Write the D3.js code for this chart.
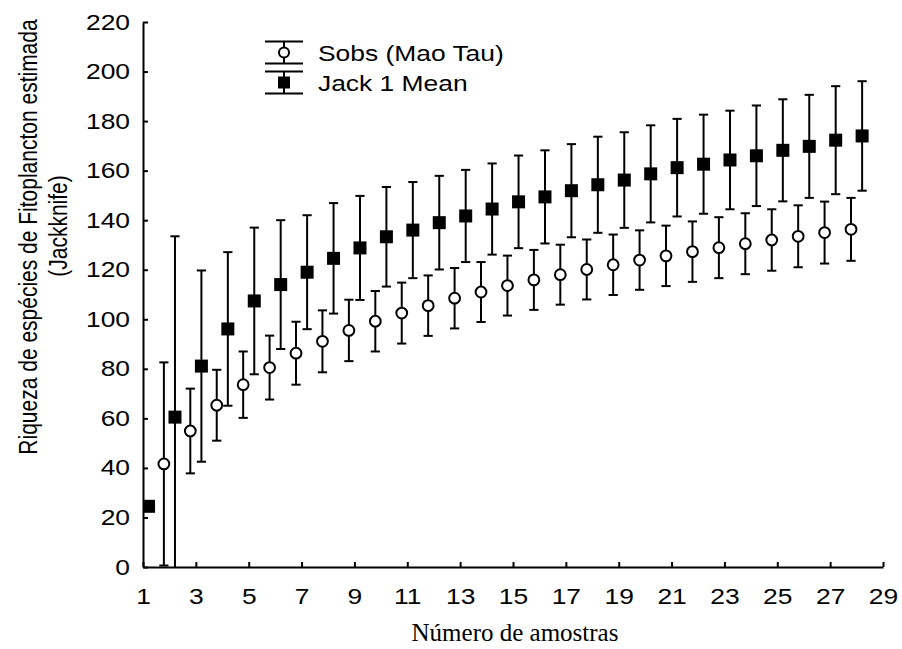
<!DOCTYPE html>
<html>
<head>
<meta charset="utf-8">
<script src="https://cdn.jsdelivr.net/npm/d3@7"></script>
<style>
  body { margin: 0; background: #fff; }
  svg { display: block; }
  text { font-family: "Liberation Sans", Arial, sans-serif; fill: #000; }
</style>
</head>
<body>
<div id="chart"></div>
<script>
// number of samples
const samples = [1, 2, 3, 4, 5, 6, 7, 8, 9, 10, 11, 12, 13, 14, 15, 16, 17, 18, 19, 20, 21, 22, 23, 24, 25, 26, 27, 28];

// Sobs (Mao Tau): mean and half-width of the bar
const sobsMean = [null, 41.6, 54.9, 65.3, 73.6, 80.5, 86.3, 91.1, 95.5, 99.2, 102.5, 105.5, 108.5, 111.0,
  113.6, 115.9, 118.0, 120.1, 122.0, 123.9, 125.6, 127.3, 128.9, 130.5, 132.0, 133.5, 135.0, 136.3];
const sobsSD = [null, 41.0, 17.1, 14.3, 13.4, 12.9, 12.7, 12.5, 12.4, 12.2, 12.3, 12.2, 12.2, 12.1,
  12.1, 12.1, 12.1, 12.1, 12.2, 12.0, 12.2, 12.2, 12.3, 12.3, 12.4, 12.5, 12.5, 12.7];

// Jack 1 Mean
const jackMean = [24.5, 60.5, 81.1, 96.1, 107.4, 114.0, 119.0, 124.6, 128.8, 133.3, 136.0, 139.0, 141.7, 144.5,
  147.4, 149.4, 151.9, 154.3, 156.2, 158.7, 161.2, 162.6, 164.3, 166.0, 168.2, 169.8, 172.3, 174.0];
const jackSD = [0, 73.0, 38.6, 31.0, 29.6, 26.0, 23.0, 22.3, 21.0, 20.1, 19.4, 18.9, 18.6, 18.4,
  18.7, 18.8, 18.8, 19.4, 19.3, 19.6, 19.7, 20.0, 19.9, 20.3, 20.6, 20.8, 21.8, 22.1];

const xTicks = [1, 3, 5, 7, 9, 11, 13, 15, 17, 19, 21, 23, 25, 27, 29];
const yTicks = [0, 20, 40, 60, 80, 100, 120, 140, 160, 180, 200, 220];

const legendLabels = ["Sobs (Mao Tau)", "Jack 1 Mean"];

const W = 902, H = 649;
const margin = { top: 22, right: 19, bottom: 82, left: 143 };
const width = W - margin.left - margin.right,
  height = H - margin.top - margin.bottom;

const sobsOffset = -0.21, jackOffset = 0.21, capW = 4.6;
const stretch = 1.2; // the original picture is wider than its text

const svg = d3.select("#chart").append("svg")
  .attr("width", W)
  .attr("height", H);

const g = svg.append("g")
  .attr("transform", "translate(" + margin.left + "," + margin.top + ")");

const x = d3.scaleLinear().domain([1, 29]).range([0, width]);
const y = d3.scaleLinear().domain([0, 220]).range([height, 0]);

svg.append("clipPath").attr("id", "plotclip")
  .append("rect")
  .attr("x", 0).attr("y", -margin.top)
  .attr("width", width + margin.right).attr("height", height + margin.top);

// axes, ticks pointing inward
const xAxis = g.append("g")
  .attr("transform", "translate(0," + height + ")")
  .call(d3.axisBottom(x).tickValues(xTicks).tickSizeInner(-5).tickSizeOuter(0).tickPadding(21));

const yAxis = g.append("g")
  .call(d3.axisLeft(y).tickValues(yTicks).tickSizeInner(-5).tickSizeOuter(0).tickPadding(13));

[xAxis, yAxis].forEach((a) => {
  a.select(".domain").attr("stroke", "#000").attr("stroke-width", 2);
  a.selectAll(".tick line").attr("stroke", "#000").attr("stroke-width", 2);
  a.selectAll(".tick text")
    .style("font-family", '"Liberation Sans", Arial, sans-serif')
    .style("font-size", "22px")
    .attr("fill", "#000")
    .attr("transform", "scale(" + stretch + ",1)");
});
yAxis.selectAll(".tick text").attr("x", -13 / stretch);

// axis titles
svg.append("text")
  .attr("x", 515)
  .attr("y", 641)
  .attr("text-anchor", "middle")
  .style("font-family", '"Liberation Serif", "Times New Roman", serif')
  .style("font-size", "25px")
  .text("Número de amostras");

const yTitle = ["Riqueza de espécies de Fitoplancton estimada", "(Jackknife)"];
const yTitleMid = [237, 226];
svg.selectAll(".ytitle")
  .data(yTitle)
  .enter()
  .append("text")
  .attr("class", "ytitle")
  .attr("transform", (d, i) => "translate(" + (28 + i * 30) + "," + yTitleMid[i] + ") scale(" + stretch + ",1) rotate(-90)")
  .attr("dy", "0.35em")
  .attr("text-anchor", "middle")
  .style("font-size", "21px")
  .text((d) => d);

// data points
const plot = g.append("g").attr("clip-path", "url(#plotclip)");

function errorBars(sel, mean, sd, off) {
  const rows = samples
    .map((s, i) => ({ s: s, m: mean[i], e: sd[i] }))
    .filter((d) => d.m !== null && d.e > 0);
  const bars = sel.append("g")
    .attr("stroke", "#000")
    .attr("stroke-width", 2)
    .selectAll("g")
    .data(rows)
    .enter()
    .append("g");
  bars.append("line")
    .attr("x1", (d) => x(d.s + off)).attr("x2", (d) => x(d.s + off))
    .attr("y1", (d) => y(d.m - d.e)).attr("y2", (d) => y(d.m + d.e));
  bars.append("line")
    .attr("x1", (d) => x(d.s + off) - capW).attr("x2", (d) => x(d.s + off) + capW)
    .attr("y1", (d) => y(d.m + d.e)).attr("y2", (d) => y(d.m + d.e));
  bars.append("line")
    .attr("x1", (d) => x(d.s + off) - capW).attr("x2", (d) => x(d.s + off) + capW)
    .attr("y1", (d) => y(d.m - d.e)).attr("y2", (d) => y(d.m - d.e));
}

errorBars(plot, sobsMean, sobsSD, sobsOffset);
errorBars(plot, jackMean, jackSD, jackOffset);

plot.append("g")
  .selectAll("circle")
  .data(samples.filter((s, i) => sobsMean[i] !== null))
  .enter()
  .append("circle")
  .attr("cx", (d) => x(d + sobsOffset))
  .attr("cy", (d) => y(sobsMean[d - 1]))
  .attr("r", 5.4)
  .attr("fill", "#fff")
  .attr("stroke", "#000")
  .attr("stroke-width", 2);

const sq = 13;
plot.append("g")
  .selectAll("rect")
  .data(samples)
  .enter()
  .append("rect")
  .attr("x", (d) => x(d + jackOffset) - sq / 2)
  .attr("y", (d) => y(jackMean[d - 1]) - sq / 2)
  .attr("width", sq)
  .attr("height", sq)
  .attr("fill", "#000");

// legend
const legend = svg.append("g").attr("transform", "translate(284,0)");
const legY = [52.5, 82.5];
legendLabels.forEach((lab, i) => {
  const row = legend.append("g").attr("transform", "translate(0," + legY[i] + ")");
  row.append("line").attr("x1", 0).attr("x2", 0).attr("y1", -11).attr("y2", 11)
    .attr("stroke", "#000").attr("stroke-width", 2);
  [-11, 11].forEach((yy) => {
    row.append("line").attr("x1", -19).attr("x2", 19).attr("y1", yy).attr("y2", yy)
      .attr("stroke", "#000").attr("stroke-width", 2);
  });
  if (i === 0) {
    row.append("circle").attr("r", 5).attr("fill", "#fff").attr("stroke", "#000").attr("stroke-width", 2);
  } else {
    row.append("rect").attr("x", -6).attr("y", -6).attr("width", 12).attr("height", 12).attr("fill", "#000");
  }
  row.append("g")
    .attr("transform", "translate(34,8) scale(" + stretch + ",1)")
    .append("text")
    .style("font-size", "22px")
    .text(lab);
});
</script>
</body>
</html>
